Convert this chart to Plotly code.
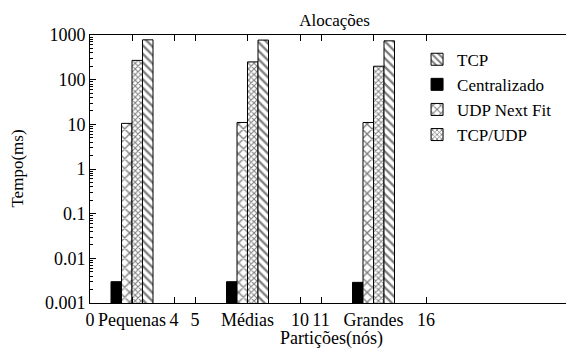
import plotly.graph_objects as go

groups = ["Pequenas", "Médias", "Grandes"]
group_pos = [2, 7.5, 13.5]
centralizado = [0.003, 0.003, 0.0029]
udp_next_fit = [10.5, 11, 11]
tcp_udp = [270, 250, 200]
tcp = [780, 770, 740]

xtick_vals = [0, 2, 4, 5, 7.5, 10, 11, 13.5, 16]
xtick_text = ["0", "Pequenas", "4", "5", "Médias", "10", "11", "Grandes", "16"]
ytick_vals = [0.001, 0.01, 0.1, 1, 10, 100, 1000]
ytick_text = ["0.001", "0.01", "0.1", "1", "10", "100", "1000"]

FONT = "Liberation Serif"
FS = 18
bw = 0.5

series = [
    ("Centralizado", centralizado, -0.75, dict(color="black", line=dict(color="black", width=1))),
    ("UDP Next Fit", udp_next_fit, -0.25, dict(color="white", line=dict(color="black", width=1),
                                               pattern=dict(shape="x", fgcolor="black", bgcolor="white", size=7, solidity=0.35))),
    ("TCP/UDP", tcp_udp, 0.25, dict(color="white", line=dict(color="black", width=1),
                                    pattern=dict(shape="x", fgcolor="black", bgcolor="white", size=4, solidity=0.45))),
    ("TCP", tcp, 0.75, dict(color="white", line=dict(color="black", width=1),
                            pattern=dict(shape="\\", fgcolor="black", bgcolor="white", size=6, solidity=0.4))),
]

fig = go.Figure()
legend_rank = {"TCP": 1, "Centralizado": 2, "UDP Next Fit": 3, "TCP/UDP": 4}
for name, vals, off, marker in series:
    fig.add_trace(go.Bar(
        x=[g + off for g in group_pos], y=vals, width=bw, name=name,
        marker=marker, legendrank=legend_rank[name],
    ))

# page body has an 8px margin: figure sized/positioned to compensate
fig.update_layout(
    width=566, height=346,
    margin=dict(l=82, r=1, t=27, b=51, autoexpand=False),
    paper_bgcolor="white", plot_bgcolor="white",
    barmode="overlay",
    font=dict(family=FONT, size=FS, color="black"),
    title=dict(text="Alocações", x=0.577, xanchor="center", y=0.966, yanchor="middle",
               font=dict(family=FONT, size=17)),
    legend=dict(x=0.967, xanchor="right", y=0.975, yanchor="top", bgcolor="rgba(0,0,0,0)",
                font=dict(family=FONT, size=17), tracegroupgap=0, itemwidth=30),
    showlegend=True,
    annotations=[
        dict(text="Tempo(ms)", xref="paper", yref="paper", x=-0.152, y=0.5,
             xanchor="center", yanchor="middle", textangle=-90, showarrow=False,
             font=dict(family=FONT, size=17)),
        dict(text="Partições(nós)", xref="paper", yref="paper", x=0.5, y=-0.134,
             xanchor="center", yanchor="middle", showarrow=False,
             font=dict(family=FONT, size=FS)),
    ],
)
fig.update_xaxes(
    range=[0, 23], tickvals=xtick_vals, ticktext=xtick_text, automargin=False,
    tickfont=dict(family=FONT, size=18), tickangle=0,
    ticks="inside", ticklen=6, tickcolor="black", showline=True, linecolor="black",
    linewidth=1, mirror="ticks", showgrid=False, zeroline=False,
)
fig.update_yaxes(
    type="log", range=[-3, 3], tickvals=ytick_vals, ticktext=ytick_text, automargin=False,
    tickfont=dict(family=FONT, size=18),
    ticks="inside", ticklen=6, tickcolor="black", showline=True, linecolor="black",
    linewidth=1, mirror="ticks", showgrid=False, zeroline=False,
    minor=dict(ticks="inside", ticklen=3, tickcolor="black", dtick="D1"),
)

fig.write_html("out.html")
